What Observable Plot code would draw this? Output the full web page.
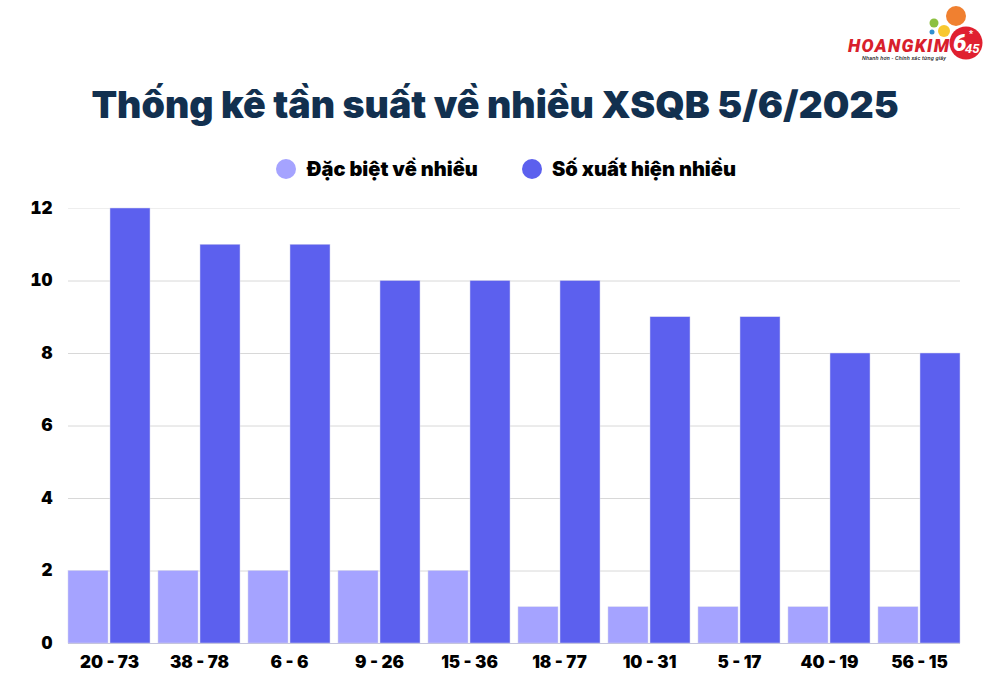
<!DOCTYPE html>
<html><head><meta charset="utf-8">
<script src="https://cdn.jsdelivr.net/npm/d3@7"></script>
<script src="https://cdn.jsdelivr.net/npm/@observablehq/plot@0.6"></script>
<style>
html,body{margin:0;padding:0;background:#fff;width:990px;height:690px;overflow:hidden;font-family:Inter,sans-serif}
#page{position:relative;width:990px;height:690px}
#title{position:absolute;left:0;top:79px;width:990px;text-align:center;margin:0;font:900 37.5px/52px Inter,sans-serif;color:#12304f;white-space:nowrap}
#legend{position:absolute;left:0;top:155px;width:990px;height:28px;font:900 20px/28px Inter,sans-serif;color:#000}
#legend span{position:absolute;white-space:nowrap}
#legend i{position:absolute;width:20px;height:20px;border-radius:50%;top:4px}
#chart{position:absolute;left:0;top:190px}
#logo{position:absolute;left:830px;top:0}
svg{display:block}
</style></head><body>
<div id="page">
<svg id="logo" width="160" height="70" viewBox="0 0 160 70">
<circle cx="126" cy="16" r="10" fill="#f08030"/>
<circle cx="104" cy="23" r="4.5" fill="#8cc040"/>
<circle cx="114" cy="31" r="6" fill="#f8c830"/>
<circle cx="102" cy="32" r="2.5" fill="#3090d0"/>
<circle cx="136" cy="43" r="16.5" fill="#e02030"/>
<text x="18" y="52" font-family="Roboto" font-weight="900" font-style="italic" font-size="18" fill="#d8202c" textLength="101">HOANGKIM</text>
<text x="32" y="60" font-family="Roboto" font-weight="500" font-style="italic" font-size="5.6" fill="#222" textLength="84">Nhanh hơn - Chính xác từng giây</text>
<text x="123" y="51" font-family="Roboto" font-weight="900" font-style="italic" font-size="24" fill="#fff">6</text>
<text x="135" y="53" font-family="Roboto" font-weight="700" font-style="italic" font-size="13" fill="#fff">45</text>
<text x="139" y="37" font-family="Roboto" font-weight="700" font-size="9" fill="#fff">*</text>
</svg>
<h1 id="title">Thống kê tần suất về nhiều XSQB 5/6/2025</h1>
<div id="legend">
<i style="left:276px;background:#a5a3ff"></i><span style="left:307px">Đặc biệt về nhiều</span>
<i style="left:522px;background:#5c60ee"></i><span style="left:552px">Số xuất hiện nhiều</span>
</div>
<div id="chart"></div>
</div>
<script>
const categories = ["20 - 73","38 - 78","6 - 6","9 - 26","15 - 36","18 - 77","10 - 31","5 - 17","40 - 19","56 - 15"];
const seriesNames = ["Đặc biệt về nhiều","Số xuất hiện nhiều"];
const dacBiet = [2,2,2,2,2,1,1,1,1,1];
const xuatHien = [12,11,11,10,10,10,9,9,8,8];
const yTicks = [0,2,4,6,8,10,12];
const colors = ["#a5a3ff","#5c60ee"];

const rows = categories.flatMap((c,i)=>[
  {cat:c, series:seriesNames[0], value:dacBiet[i]},
  {cat:c, series:seriesNames[1], value:xuatHien[i]}
]);
// gridlines are drawn per facet; all but the first reach back over the gap between groups
const gridRows = categories.flatMap(c=>yTicks.map(v=>({cat:c,v})));
const grid = (filter,stroke)=>[
  Plot.ruleY(gridRows.filter(d=>d.cat===categories[0]&&filter(d.v)),{fx:"cat",y:"v",stroke,strokeWidth:1}),
  Plot.ruleY(gridRows.filter(d=>d.cat!==categories[0]&&filter(d.v)),{fx:"cat",y:"v",stroke,strokeWidth:1,insetLeft:-8})
];
const plot = Plot.plot({
  width:990, height:500,
  marginLeft:68, marginRight:30, marginTop:18, marginBottom:47,
  style:{background:"transparent"},
  fx:{domain:categories, label:null, paddingInner:0.089, paddingOuter:0, align:0.5},
  x:{domain:seriesNames, paddingInner:0.05, paddingOuter:0, axis:null, label:null},
  y:{domain:[0,12], label:null},
  color:{domain:seriesNames, range:colors},
  marks:[
    grid(v=>v>0&&v<12,"#d8d8d8"),
    grid(v=>v===12,"#eeeeee"),
    Plot.barY(rows,{fx:"cat",x:"series",y:"value",fill:"series",stroke:"#d4d4ee",strokeWidth:0.5}),
    grid(v=>v===0,"#c4c4dc"),
    Plot.axisY({ticks:yTicks,tickSize:0,tickPadding:16,label:null,fontSize:17,fontWeight:900,fill:"#000"}),
    Plot.axisFx({tickSize:0,tickPadding:12,label:null,fontSize:17,fontWeight:900,fill:"#000",anchor:"bottom"})
  ]
});
plot.style.fontFamily="Inter,sans-serif";
document.getElementById("chart").append(plot);
</script>
</body></html>
